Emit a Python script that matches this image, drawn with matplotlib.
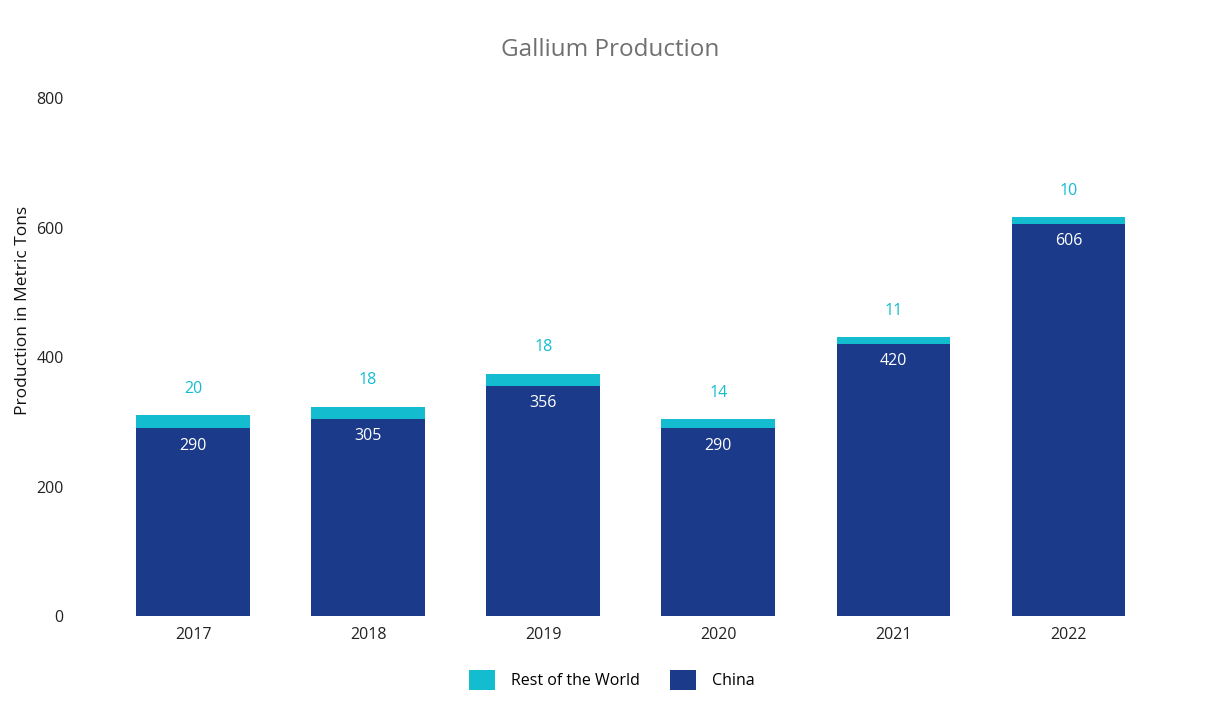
import matplotlib.pyplot as plt
from matplotlib.patches import Patch

plt.rcParams['font.family'] = ['Open Sans', 'DejaVu Sans']

# Data
years = ['2017', '2018', '2019', '2020', '2021', '2022']
china = [290, 305, 356, 290, 420, 606]
rest_of_world = [20, 18, 18, 14, 11, 10]

dark_blue = '#1b3a8a'
cyan = '#13bccf'

fig = plt.figure(figsize=(12.21, 7.28), dpi=100)
ax = fig.add_axes([0.0864, 0.1538, 0.8604, 0.7116])

x = list(range(len(years)))
ax.bar(x, china, width=0.65, color=dark_blue, label='China')
ax.bar(x, rest_of_world, width=0.65, bottom=china, color=cyan, label='Rest of the World')

# value labels
for i in x:
    ax.annotate(str(china[i]), xy=(i, china[i]), xytext=(0, -12.5), textcoords='offset points',
                ha='center', va='center', color='white', fontsize=11.5)
    ax.annotate(str(rest_of_world[i]), xy=(i, china[i] + rest_of_world[i]), xytext=(0, 19),
                textcoords='offset points', ha='center', va='center', color=cyan, fontsize=11.5)

ax.set_xlim(-0.5, 5.5)
ax.set_ylim(0, 800)
ax.set_yticks([0, 200, 400, 600, 800])
ax.set_xticks(x)
ax.set_xticklabels(years)
ax.tick_params(axis='both', length=0, labelsize=11.5, colors='#222222')
ax.tick_params(axis='y', pad=30)
ax.tick_params(axis='x', pad=8)
for s in ax.spines.values():
    s.set_visible(False)

fig.text(23 / 1221, 1 - 310 / 728, 'Production in Metric Tons', rotation=90, ha='center', va='center',
         fontsize=12.5, color='#111111')
fig.text(0.5, 0.932, 'Gallium Production', ha='center', va='center', fontsize=17.5, color='#707070')

handles = [Patch(facecolor=cyan, label='Rest of the World'),
           Patch(facecolor=dark_blue, label='China')]
fig.legend(handles=handles, loc='center', bbox_to_anchor=(0.501, 0.066), ncol=2, frameon=False,
           fontsize=11.5, handlelength=1.6, handleheight=1.6, columnspacing=1.9, handletextpad=1.0)

fig.savefig('out.png', dpi=100)
